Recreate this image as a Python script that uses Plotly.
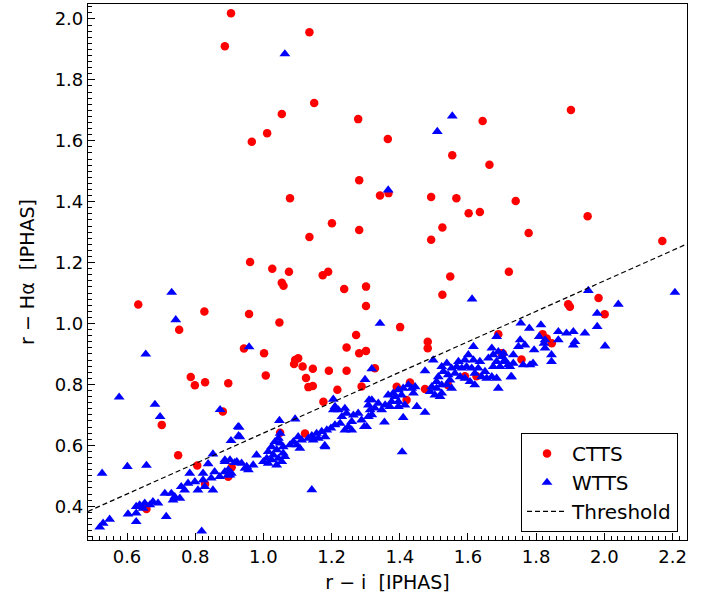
import plotly.graph_objects as go

# ---- data ----
ctts_x = [0.905, 0.887, 1.135, 1.149, 1.054, 1.278, 1.365, 1.011, 0.966, 1.902, 1.643, 1.554, 1.663,
          1.281, 1.342, 1.367, 1.078, 1.492, 1.566, 1.740, 1.602, 1.635, 1.951, 1.201, 1.525, 1.281,
          1.778, 1.135, 1.492, 2.170, 0.961, 1.026, 1.075, 1.174, 1.190, 1.548, 1.720, 1.054, 1.059,
          1.237, 1.301, 1.525, 1.301, 0.633, 1.894, 1.899, 1.983, 2.001, 0.827, 0.958, 1.047, 1.401,
          0.753, 1.272, 1.482, 1.482, 0.943, 1.002, 1.244, 1.281, 1.301, 1.819, 1.831, 1.846, 1.689,
          1.702, 1.757, 1.093, 1.102, 1.090, 1.115, 1.145, 1.192, 1.244, 1.327, 1.007, 1.125, 1.132,
          1.145, 1.217, 1.288, 0.787, 0.799, 0.829, 0.897, 1.176, 0.881, 0.702, 1.591, 1.625, 1.542,
          1.430, 1.391, 1.474, 1.420, 1.049, 1.122, 0.750, 0.806, 0.907, 0.897, 0.829, 0.657, 1.699]
ctts_y = [2.019, 1.910, 1.956, 1.724, 1.688, 1.671, 1.606, 1.625, 1.597, 1.701, 1.665, 1.552, 1.521,
          1.470, 1.420, 1.428, 1.411, 1.415, 1.411, 1.402, 1.362, 1.366, 1.352, 1.329, 1.315, 1.307,
          1.297, 1.284, 1.275, 1.271, 1.202, 1.180, 1.170, 1.158, 1.170, 1.154, 1.170, 1.134, 1.124,
          1.113, 1.121, 1.094, 1.057, 1.062, 1.063, 1.055, 1.084, 1.030, 1.039, 1.031, 1.003, 0.988,
          0.979, 0.962, 0.940, 0.919, 0.918, 0.902, 0.921, 0.902, 0.910, 0.965, 0.951, 0.935, 0.965,
          0.901, 0.882, 0.880, 0.886, 0.867, 0.859, 0.851, 0.845, 0.845, 0.853, 0.829, 0.821, 0.791,
          0.795, 0.782, 0.793, 0.824, 0.797, 0.807, 0.804, 0.743, 0.711, 0.667, 0.827, 0.827, 0.797,
          0.806, 0.792, 0.785, 0.749, 0.641, 0.639, 0.567, 0.534, 0.528, 0.497, 0.473, 0.391, 0.902]

wtts_x = [1.063, 1.554, 1.510, 1.366, 1.612, 2.207, 1.953, 2.041, 1.979, 1.979, 2.002, 0.731, 0.743,
          1.342, 0.655, 0.958, 0.577, 0.682, 0.697, 0.873, 1.318, 1.298, 1.047, 1.093, 1.180, 1.142,
          1.407, 0.819, 0.929, 0.927, 0.905, 0.852, 0.527, 0.601, 0.657, 0.784,
          0.838, 0.887, 0.916, 0.823, 0.857, 0.887, 0.906, 0.779, 0.799, 0.823, 0.847, 0.872, 0.896,
          0.759, 0.769, 0.808, 0.828, 0.852, 0.711, 0.730, 0.740, 0.755, 0.735, 0.676, 0.691, 0.667,
          0.652, 0.637, 0.627, 0.647, 0.603, 0.627, 0.715, 0.549, 0.530, 0.520, 0.627,
          1.205, 1.210, 1.205, 1.220, 1.239, 1.244, 1.264, 1.230, 1.278, 1.288, 1.308, 1.313, 1.310,
          1.259, 1.249, 1.259, 1.239, 1.225, 1.210, 1.296, 1.198, 1.186, 1.171, 1.156, 1.142, 1.181,
          1.161, 1.146, 1.132, 1.181, 1.102, 1.088, 1.098, 1.107, 1.078, 1.112,
          1.049, 1.044, 1.034, 1.049, 1.058, 1.024, 1.039, 1.058, 1.014, 1.029, 1.044, 1.024, 1.010,
          1.000, 1.014, 1.039, 1.054, 1.063,
          0.926, 0.931, 0.980, 0.970, 0.951, 0.936, 0.922, 0.902, 0.887, 0.956, 0.946, 0.897, 0.902,
          1.616, 1.670, 1.684, 1.474, 1.498,
          1.523, 1.538, 1.552, 1.528, 1.542, 1.513, 1.508, 1.523, 1.494, 1.508, 1.489, 1.503, 1.523, 1.518,
          1.572, 1.591, 1.601, 1.616, 1.567, 1.582, 1.596, 1.611, 1.620, 1.630, 1.635, 1.562, 1.577,
          1.591, 1.606, 1.620, 1.547, 1.552, 1.538,
          1.660, 1.674, 1.689, 1.699, 1.684, 1.709, 1.723, 1.694, 1.674, 1.670, 1.684, 1.650, 1.655,
          1.640, 1.689, 1.728, 1.704, 1.733, 1.733,
          1.425, 1.435, 1.445, 1.410, 1.396, 1.381, 1.366, 1.386, 1.405, 1.396, 1.376, 1.357, 1.337,
          1.318, 1.308, 1.327, 1.347, 1.371, 1.396, 1.415, 1.440, 1.450, 1.474, 1.410, 1.355, 1.318, 1.303,
          1.943, 1.909, 1.889, 1.865, 1.914, 1.909, 1.865,
          1.814, 1.755, 1.780, 1.809, 1.823, 1.826, 1.845, 1.845, 1.794, 1.791, 1.767, 1.753, 1.748,
          1.762, 1.782, 1.726, 1.708, 1.718, 1.826]
wtts_y = [1.885, 1.681, 1.630, 1.438, 1.080, 1.102, 1.108, 1.063, 1.033, 0.990, 0.926, 1.102, 1.012,
          1.000, 0.899, 0.923, 0.758, 0.734, 0.694, 0.717, 0.851, 0.816, 0.681, 0.686, 0.599, 0.454,
          0.578, 0.318, 0.659, 0.631, 0.615, 0.571, 0.508, 0.530, 0.534, 0.508,
          0.539, 0.552, 0.543, 0.508, 0.513, 0.513, 0.508, 0.475, 0.480, 0.486, 0.492, 0.497, 0.502,
          0.464, 0.453, 0.453, 0.464, 0.453, 0.442, 0.442, 0.431, 0.426, 0.420, 0.415, 0.410, 0.404,
          0.410, 0.404, 0.399, 0.393, 0.374, 0.377, 0.366, 0.357, 0.344, 0.331, 0.349,
          0.751, 0.727, 0.716, 0.716, 0.721, 0.705, 0.699, 0.694, 0.705, 0.683, 0.694, 0.716, 0.749,
          0.678, 0.661, 0.650, 0.650, 0.672, 0.667, 0.661, 0.656, 0.650, 0.645, 0.639, 0.631, 0.628,
          0.623, 0.617, 0.623, 0.595, 0.628, 0.612, 0.601, 0.590, 0.601, 0.617,
          0.639, 0.623, 0.612, 0.607, 0.595, 0.595, 0.585, 0.574, 0.579, 0.568, 0.557, 0.552, 0.557,
          0.546, 0.541, 0.535, 0.546, 0.563,
          0.661, 0.628, 0.568, 0.535, 0.530, 0.541, 0.546, 0.552, 0.546, 0.519, 0.524, 0.519, 0.502,
          0.924, 0.919, 0.957, 0.844, 0.880,
          0.858, 0.869, 0.853, 0.842, 0.831, 0.825, 0.809, 0.798, 0.792, 0.787, 0.776, 0.765, 0.771, 0.760,
          0.875, 0.880, 0.897, 0.880, 0.858, 0.853, 0.858, 0.853, 0.836, 0.853, 0.875, 0.836, 0.825,
          0.820, 0.809, 0.798, 0.814, 0.787, 0.798,
          0.886, 0.897, 0.907, 0.891, 0.875, 0.875, 0.858, 0.858, 0.858, 0.825, 0.820, 0.842, 0.820,
          0.825, 0.787, 0.825, 0.902, 0.897, 0.869,
          0.798, 0.787, 0.792, 0.787, 0.782, 0.771, 0.765, 0.760, 0.765, 0.743, 0.743, 0.732, 0.738,
          0.749, 0.732, 0.722, 0.716, 0.727, 0.727, 0.732, 0.771, 0.727, 0.708, 0.691, 0.676, 0.700, 0.661,
          0.968, 0.973, 0.968, 0.973, 0.940, 0.929, 0.946,
          0.995, 1.001, 0.984, 0.957, 0.935, 0.919, 0.897, 0.875, 0.913, 0.869, 0.929, 0.946, 0.924,
          0.864, 0.864, 0.825, 0.880, 0.864, 0.946]

threshold_slope = 0.50
threshold_intercept = 0.14
x_range = [0.4856, 2.2424]
y_range = [0.289, 2.049]

thr_x = x_range
thr_y = [threshold_slope * v + threshold_intercept for v in thr_x]

FONT = "DejaVu Sans"

fig = go.Figure()
fig.add_trace(go.Scatter(x=ctts_x, y=ctts_y, mode="markers", name="CTTS",
                         marker=dict(symbol="circle", size=8.5, color="#ff0000", line=dict(width=0))))
fig.add_trace(go.Scatter(x=wtts_x, y=wtts_y, mode="markers", name="WTTS",
                         marker=dict(symbol="triangle-up", size=9.5, color="#0000ff", line=dict(width=0))))
fig.add_trace(go.Scatter(x=thr_x, y=thr_y, mode="lines", name="Threshold",
                         line=dict(color="black", width=1.2, dash="5px,3px")))

axis_common = dict(showgrid=False, zeroline=False, showline=True, linecolor="black", linewidth=1.2,
                   mirror=True, ticks="inside", ticklen=7, tickwidth=1.2, tickcolor="black",
                   tickfont=dict(family=FONT, size=18, color="black"))

fig.update_layout(
    width=708, height=604,
    margin=dict(l=88, r=21, t=4, b=64),
    paper_bgcolor="white", plot_bgcolor="white",
    showlegend=True,
    legend=dict(x=0.985, y=0.015, xanchor="right", yanchor="bottom",
                bgcolor="white", bordercolor="black", borderwidth=1,
                font=dict(family=FONT, size=20, color="black"),
                tracegroupgap=0, itemwidth=40),
    xaxis=dict(range=x_range, dtick=0.2, tick0=0.0, tickformat=".1f",
               title=dict(text="r − i  [IPHAS]", font=dict(family=FONT, size=19, color="black"), standoff=9),
               minor=dict(dtick=0.02, ticks="inside", ticklen=3.5, tickwidth=1, tickcolor="black"),
               **axis_common),
    yaxis=dict(range=y_range, dtick=0.2, tick0=0.0, tickformat=".1f",
               title=dict(text="r − Hα  [IPHAS]", font=dict(family=FONT, size=19, color="black"), standoff=15),
               minor=dict(dtick=0.02, ticks="inside", ticklen=3.5, tickwidth=1, tickcolor="black"),
               **axis_common),
)

fig.write_html("out.html", config={"displayModeBar": False},
               post_script="document.body.style.margin='0';")
